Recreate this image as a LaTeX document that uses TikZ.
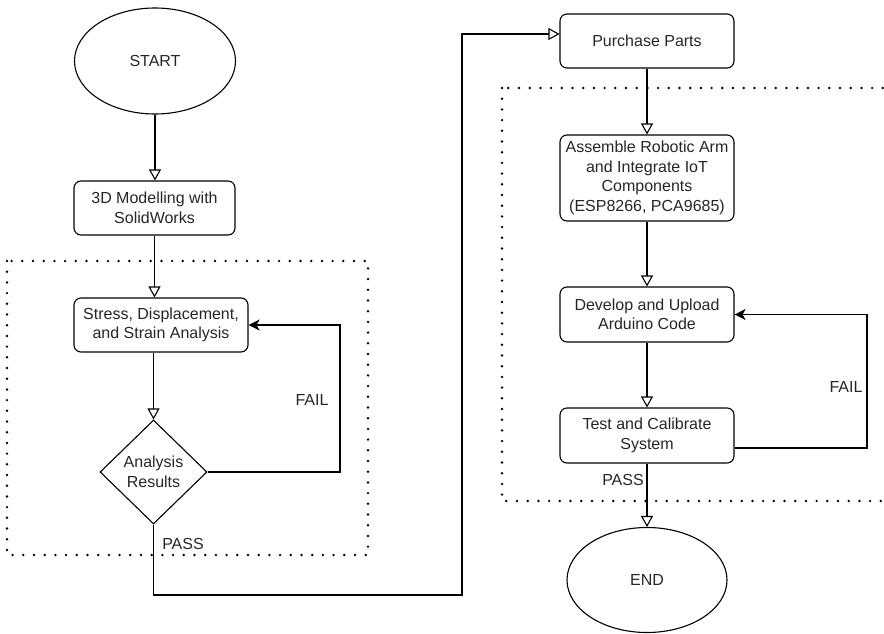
\documentclass[tikz,border=0pt]{standalone}
\usepackage{fontspec}
\setmainfont{Liberation Sans}
\usetikzlibrary{shapes.geometric,arrows.meta}
\begin{document}
\begin{tikzpicture}[x=1pt,y=-1pt,
  every node/.style={font=\fontsize{16}{19.5}\selectfont, text=black!85},
  proc/.style={draw, line width=1.1pt, rounded corners=7pt, align=center, inner sep=0pt, minimum width=174pt, minimum height=54pt},
  term/.style={draw, line width=1.1pt, ellipse, inner sep=0pt, minimum width=161pt, minimum height=106pt},
  dec/.style={draw, line width=1.1pt, diamond, inner sep=0pt, minimum width=107pt, minimum height=104pt, align=center},
  flow/.style={line width=1.1pt, -{Triangle[open, length=11pt, width=12pt]}},
  back/.style={line width=1.1pt, -{Stealth[length=11pt, width=11pt, inset=3pt]}},
  grp/.style={line width=2.7pt, line cap=round, dash pattern=on 0pt off 10.7pt},
  lbl/.style={inner sep=0pt}
]
\useasboundingbox (0,0) rectangle (884,634);
\begin{scope}
\clip (0,0) rectangle (884,634);
\draw[grp] (7,261) rectangle (368,555);
\draw[grp] (502,88) rectangle (900,501);
\end{scope}

\node[term] (start) at (155,61) {START};
\node[proc, minimum width=161pt] (model) at (154.5,208) {3D Modelling with\\SolidWorks};
\node[proc] (stress) at (161,325) {Stress, Displacement,\\and Strain Analysis};
\node[dec] (dia) at (153.5,472) {Analysis\\Results};

\node[proc] (purchase) at (647,41) {Purchase Parts};
\node[proc, minimum height=86pt] (assemble) at (647,178) {Assemble Robotic Arm\\and Integrate IoT\\Components\\(ESP8266, PCA9685)};
\node[proc, minimum height=55pt] (develop) at (647,314.5) {Develop and Upload\\Arduino Code};
\node[proc, minimum height=55pt] (test) at (647,435.5) {Test and Calibrate\\System};
\node[term, minimum width=160pt, minimum height=105pt] (end) at (647,580) {END};

\coordinate (f1) at (340,325);
\coordinate (p1) at (153.5,595);
\coordinate (p2) at (462,595);
\coordinate (p3) at (462,34);
\coordinate (f2) at (867,448);

\draw[flow] (start.south) -- (start.south |- model.north);
\draw[flow] (model.south) -- (model.south |- stress.north);
\draw[flow] (dia.north |- stress.south) -- (dia.north);
\draw[back] (dia.east) -| (f1) -- (stress.east);
\draw[flow] (dia.south) -- (p1) -- (p2) -- (p3) -- ([yshift=7pt]purchase.west);

\draw[flow] (purchase.south) -- (assemble.north);
\draw[flow] (assemble.south) -- (develop.north);
\draw[flow] (develop.south) -- (test.north);
\draw[back] ([yshift=-12.5pt]test.east) -- (f2) |- (develop.east);
\draw[flow] (test.south) -- (end.north);

\node[lbl] (fail1) at (312,400) {FAIL};
\node[lbl] (pass1) at (183,544) {PASS};
\node[lbl] (fail2) at (846,387) {FAIL};
\node[lbl] (pass2) at (623,480) {PASS};
\end{tikzpicture}
\end{document}
